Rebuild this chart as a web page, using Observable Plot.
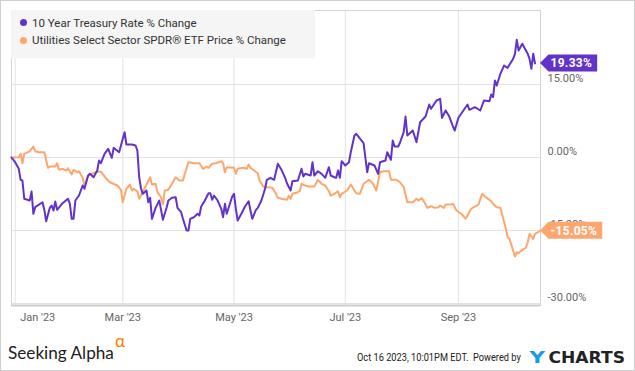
<!DOCTYPE html>
<html><head><meta charset="utf-8">
<script src="https://cdn.jsdelivr.net/npm/d3@7"></script>
<script src="https://cdn.jsdelivr.net/npm/@observablehq/plot@0.6"></script>
<style>
body{margin:0;background:#fff;font-family:Roboto,sans-serif;}
#wrap{position:relative;width:635px;height:371px;overflow:hidden;background:#fff}
#chart{position:absolute;left:0;top:0}
#border{position:absolute;left:0;top:0;width:635px;height:371px;box-sizing:border-box;border:1px solid #cfcfcf;pointer-events:none}
#legend{position:absolute;left:11px;top:10px;width:304px;height:48px;background:#f5f5f5;font-family:Roboto,sans-serif;font-size:11.5px;color:#333}
.li{position:absolute;left:21px;height:16px;line-height:16px;white-space:nowrap}
.dot{position:absolute;left:9px;width:7px;height:7px;border-radius:50%}
#footer{position:absolute;left:0;top:320px}
</style>
</head><body>
<div id="wrap">
  <div id="chart"></div>
  <div id="legend"></div>
  <svg id="footer" width="635" height="51"></svg>
  <div id="border"></div>
</div>
<script>
const seriesNames = ["10 Year Treasury Rate % Change", "Utilities Select Sector SPDR® ETF Price % Change"];
const seriesColors = ["#6233c8", "#fda66e"];

const treasuryDates = ["2022-12-30","2023-01-01","2023-01-03","2023-01-04","2023-01-05","2023-01-06","2023-01-09","2023-01-10","2023-01-11","2023-01-12","2023-01-16","2023-01-17","2023-01-18","2023-01-20","2023-01-21","2023-01-22","2023-01-23","2023-01-24","2023-01-27","2023-01-30","2023-01-31","2023-02-01","2023-02-02","2023-02-03","2023-02-05","2023-02-07","2023-02-08","2023-02-10","2023-02-11","2023-02-13","2023-02-15","2023-02-16","2023-02-17","2023-02-19","2023-02-21","2023-02-23","2023-02-24","2023-02-27","2023-02-28","2023-03-02","2023-03-03","2023-03-06","2023-03-08","2023-03-09","2023-03-10","2023-03-11","2023-03-12","2023-03-14","2023-03-15","2023-03-16","2023-03-17","2023-03-19","2023-03-21","2023-03-22","2023-03-23","2023-03-25","2023-03-26","2023-03-28","2023-03-30","2023-03-31","2023-04-02","2023-04-03","2023-04-05","2023-04-06","2023-04-07","2023-04-09","2023-04-11","2023-04-12","2023-04-13","2023-04-15","2023-04-17","2023-04-18","2023-04-19","2023-04-20","2023-04-22","2023-04-24","2023-04-25","2023-04-26","2023-04-27","2023-04-29","2023-04-30","2023-05-01","2023-05-02","2023-05-03","2023-05-05","2023-05-07","2023-05-09","2023-05-10","2023-05-11","2023-05-13","2023-05-14","2023-05-16","2023-05-18","2023-05-19","2023-05-21","2023-05-23","2023-05-25","2023-05-27","2023-05-29","2023-05-30","2023-06-01","2023-06-02","2023-06-05","2023-06-07","2023-06-08","2023-06-09","2023-06-12","2023-06-13","2023-06-14","2023-06-16","2023-06-18","2023-06-20","2023-06-22","2023-06-23","2023-06-25","2023-06-26","2023-06-27","2023-06-28","2023-06-29","2023-07-01","2023-07-03","2023-07-04","2023-07-06","2023-07-07","2023-07-11","2023-07-13","2023-07-14","2023-07-17","2023-07-19","2023-07-20","2023-07-23","2023-07-24","2023-07-26","2023-07-27","2023-07-28","2023-07-30","2023-07-31","2023-08-02","2023-08-03","2023-08-04","2023-08-07","2023-08-09","2023-08-11","2023-08-14","2023-08-16","2023-08-17","2023-08-20","2023-08-22","2023-08-23","2023-08-25","2023-08-27","2023-08-29","2023-08-30","2023-09-01","2023-09-06","2023-09-07","2023-09-10","2023-09-13","2023-09-15","2023-09-18","2023-09-19","2023-09-20","2023-09-21","2023-09-22","2023-09-24","2023-09-26","2023-09-28","2023-10-01","2023-10-02","2023-10-03","2023-10-04","2023-10-06","2023-10-09","2023-10-10","2023-10-11","2023-10-12","2023-10-13"];
const treasuryValues = [0,-0.97,-2.32,-4.58,-4.73,-8.49,-8.84,-6.99,-11.57,-10.21,-9.19,-10.75,-13.09,-10.34,-9.86,-10.89,-9.04,-10.75,-9.39,-8.49,-9.51,-12.60,-12.60,-8.84,-7.81,-5.75,-6.43,-3.70,-3.35,-4.05,-2.67,-0.62,-1.17,0.76,1.79,-0.06,1.99,1.09,2.47,5.20,2.67,2.67,2.47,1.44,-4.05,-6.37,-7.46,-6.78,-9.19,-8.28,-12.60,-10.34,-8.84,-10.75,-12.80,-10.34,-8.84,-8.28,-8.16,-10.34,-11.24,-12.60,-15.00,-15.00,-12.60,-12.27,-11.57,-11.92,-10.07,-8.84,-7.34,-7.34,-8.69,-7.81,-8.84,-10.54,-12.27,-9.51,-11.57,-9.19,-8.01,-7.46,-10.54,-12.95,-11.57,-10.07,-8.98,-10.89,-12.60,-10.75,-10.34,-8.84,-6.43,-4.58,-4.17,-4.58,-1.29,-2.53,-4.17,-5.28,-6.78,-4.87,-4.73,-2.32,-3.90,-3.35,-3.70,-0.97,-3.70,-2.82,-3.35,-4.17,-1.99,-3.70,-4.05,-4.17,-2.67,-4.17,-0.76,-1.64,-0.97,1.09,4.52,4.87,2.94,-3.02,-1.17,-1.64,-3.35,-0.97,-0.62,1.09,-0.47,3.49,2.26,2.26,3.08,5.20,8.42,4.52,5.55,3.14,7.25,8.42,10.89,10.01,11.71,12.06,8.16,9.66,8.42,6.37,5.55,8.16,10.89,9.80,10.34,9.66,11.71,11.57,12.95,12.39,15.82,14.79,17.20,18.90,18.43,20.28,21.31,24.19,21.99,23.36,21.31,20.28,18.23,21.31,19.33];

const utilityDates = ["2022-12-30","2023-01-03","2023-01-04","2023-01-05","2023-01-06","2023-01-09","2023-01-11","2023-01-12","2023-01-14","2023-01-17","2023-01-19","2023-01-20","2023-01-23","2023-01-24","2023-01-25","2023-01-27","2023-01-29","2023-01-30","2023-02-01","2023-02-02","2023-02-04","2023-02-05","2023-02-07","2023-02-08","2023-02-10","2023-02-11","2023-02-14","2023-02-17","2023-02-20","2023-02-22","2023-02-26","2023-02-28","2023-03-01","2023-03-03","2023-03-05","2023-03-06","2023-03-07","2023-03-09","2023-03-10","2023-03-11","2023-03-14","2023-03-16","2023-03-17","2023-03-19","2023-03-20","2023-03-22","2023-03-23","2023-03-24","2023-03-26","2023-03-28","2023-03-30","2023-04-01","2023-04-03","2023-04-04","2023-04-06","2023-04-09","2023-04-12","2023-04-14","2023-04-16","2023-04-17","2023-04-19","2023-04-21","2023-04-24","2023-04-25","2023-04-26","2023-04-27","2023-05-01","2023-05-02","2023-05-03","2023-05-06","2023-05-08","2023-05-09","2023-05-10","2023-05-12","2023-05-14","2023-05-15","2023-05-17","2023-05-19","2023-05-22","2023-05-24","2023-05-25","2023-05-27","2023-05-30","2023-05-31","2023-06-01","2023-06-02","2023-06-05","2023-06-06","2023-06-07","2023-06-09","2023-06-11","2023-06-14","2023-06-16","2023-06-18","2023-06-20","2023-06-22","2023-06-23","2023-06-25","2023-06-27","2023-06-28","2023-06-29","2023-07-02","2023-07-04","2023-07-06","2023-07-07","2023-07-09","2023-07-11","2023-07-14","2023-07-16","2023-07-18","2023-07-20","2023-07-22","2023-07-25","2023-07-26","2023-07-29","2023-07-31","2023-08-02","2023-08-04","2023-08-07","2023-08-09","2023-08-10","2023-08-12","2023-08-13","2023-08-15","2023-08-17","2023-08-19","2023-08-21","2023-08-22","2023-08-24","2023-08-25","2023-08-28","2023-08-29","2023-08-31","2023-09-03","2023-09-05","2023-09-08","2023-09-10","2023-09-12","2023-09-14","2023-09-16","2023-09-19","2023-09-20","2023-09-22","2023-09-24","2023-09-27","2023-09-28","2023-09-29","2023-10-02","2023-10-03","2023-10-04","2023-10-06","2023-10-08","2023-10-09","2023-10-10","2023-10-12","2023-10-13","2023-10-16"];
const utilityValues = [0,0.06,0.76,-1.17,0.76,1.29,2.26,1.29,1.09,1.09,-2.12,-1.85,-1.85,-1.17,-2.53,-2.32,-2.67,-2.20,-3.49,-2.53,-3.02,-2.82,-4.17,-5.75,-3.70,-3.49,-3.02,-2.88,-4.38,-5.08,-5.75,-6.64,-9.19,-6.43,-5.55,-6.78,-6.43,-6.93,-8.49,-7.81,-5.55,-4.05,-5.55,-5.40,-7.13,-8.16,-9.66,-6.78,-6.64,-5.40,-4.05,-4.73,-4.73,-3.35,-0.97,-1.17,-1.17,-2.32,-1.85,-2.12,-1.29,-1.17,-0.76,-1.17,-3.02,-1.99,-2.12,-3.35,-2.32,-2.12,-2.32,-1.44,-2.12,-2.67,-3.23,-4.73,-5.96,-6.10,-6.23,-7.46,-8.28,-8.49,-8.69,-7.87,-8.49,-7.46,-7.13,-6.93,-5.40,-5.75,-5.96,-5.96,-4.58,-5.40,-5.75,-6.93,-7.81,-7.46,-6.93,-8.16,-7.46,-6.78,-5.55,-6.78,-7.34,-7.46,-5.40,-4.58,-5.28,-6.78,-3.02,-2.82,-2.82,-4.58,-4.58,-5.08,-6.10,-9.19,-9.19,-8.49,-8.84,-8.36,-8.98,-10.34,-10.01,-10.34,-10.21,-9.86,-10.34,-9.66,-9.66,-9.51,-10.89,-11.71,-12.60,-10.54,-10.07,-9.66,-7.46,-8.16,-8.98,-9.51,-10.21,-10.34,-14.65,-16.38,-16.71,-20.34,-19.46,-19.66,-18.97,-18.55,-17.40,-15.68,-16.71,-15.68,-15.05];

const xTickDates = ["2023-01-01","2023-03-01","2023-05-01","2023-07-01","2023-09-01"];
const yTicks = [-30, -15, 0, 15];
const xDomain = ["2022-12-30", "2023-10-16"];
const yDomain = [-30.41, 30.21];

const footerLeft = "Seeking Alpha";
const footerAlpha = "α";
const footerStamp = "Oct 16 2023, 10:01PM EDT.  Powered by";
const footerBrandY = "Y";
const footerBrandRest = "CHARTS";

const treasury = treasuryDates.map((d, i) => ({date: new Date(d), value: treasuryValues[i]}));
const utility = utilityDates.map((d, i) => ({date: new Date(d), value: utilityValues[i]}));
const xTicks = xTickDates.map(d => new Date(d));
const fmtX = d3.utcFormat("%b '%y");

const W = 635, H = 335, mL = 11, mR = 95, mT = 10, mB = 30;

const chart = Plot.plot({
  width: W, height: H,
  marginLeft: mL, marginRight: mR, marginTop: mT, marginBottom: mB,
  style: {fontFamily: "Roboto, sans-serif", fontSize: "11px", color: "#666", background: "transparent"},
  x: {type: "utc", domain: xDomain.map(d => new Date(d)), label: null},
  y: {domain: yDomain, label: null},
  marks: [
    Plot.gridX(xTicks, {stroke: "#e2e2e2", strokeOpacity: 1}),
    Plot.gridY(yTicks, {stroke: "#e2e2e2", strokeOpacity: 1}),
    Plot.frame({stroke: "#d4d4d4"}),
    Plot.ruleY([yDomain[0]], {stroke: "#cccccc", strokeWidth: 2}),
    Plot.line(utility, {x: "date", y: "value", stroke: seriesColors[1], strokeWidth: 2}),
    Plot.line(treasury, {x: "date", y: "value", stroke: seriesColors[0], strokeWidth: 2}),
    Plot.axisX(xTicks.slice(1), {tickSize: 0, tickPadding: 8, tickFormat: fmtX, fill: "#666", label: null}),
    Plot.axisX(xTicks.slice(0, 1), {tickSize: 0, tickPadding: 8, tickFormat: fmtX, textAnchor: "start", dx: 5, fill: "#666", label: null}),
    Plot.axisY(yTicks, {anchor: "right", tickSize: 0, tickPadding: 7, tickFormat: d => d.toFixed(2) + "%", dy: -6, textAnchor: "start", fill: "#666", label: null})
  ]
});
document.getElementById("chart").appendChild(chart);

// end-of-series value badges, placed through the plot's y scale
const ys = chart.scale("y");
const svg = d3.select(chart);
const lastPoints = [
  {v: treasuryValues[treasuryValues.length - 1], c: seriesColors[0]},
  {v: utilityValues[utilityValues.length - 1], c: seriesColors[1]}
];
lastPoints.forEach(p => {
  const y = ys.apply(p.v);
  const x0 = W - mR;
  const g = svg.append("g").attr("text-anchor", "start");
  const path = g.append("path").attr("fill", p.c);
  const t = g.append("text")
    .attr("x", x0 + 10.5).attr("y", y).attr("dy", "0.36em")
    .attr("text-anchor", "start")
    .attr("fill", "#fff").attr("font-weight", "bold").attr("font-size", 12)
    .attr("font-family", "Roboto, sans-serif").attr("letter-spacing", 0.3)
    .text(p.v.toFixed(2) + "%");
  const tw = t.node().getComputedTextLength();
  const h = 8.5, a = 8.5;
  const xr = x0 + 10.5 + tw + 5;
  path.attr("d", `M${x0},${y}L${x0 + a},${y - h}L${xr},${y - h}L${xr},${y + h}L${x0 + a},${y + h}Z`);
});

// legend
const legend = d3.select("#legend");
seriesNames.forEach((name, i) => {
  const cy = 12.7 + i * 17.3;
  legend.append("div").attr("class", "dot").style("top", (cy - 3.5) + "px").style("background", seriesColors[i]);
  legend.append("div").attr("class", "li").style("top", (cy - 8) + "px").text(name);
});

// footer (svg top at 320); texts fitted horizontally with a scale transform
const foot = d3.select("#footer");
function fitText(str, x, y, width, attrs) {
  const t = foot.append("text").attr("x", 0).attr("y", 0).text(str);
  Object.entries(attrs).forEach(([k, v]) => t.attr(k, v));
  const w = t.node().getComputedTextLength();
  t.attr("transform", `translate(${x},${y}) scale(${width / w},1)`);
  return t;
}
fitText(footerLeft, 8, 38.5, 106, {"font-family": "Lato, sans-serif", "font-size": 18, fill: "#222"});
foot.append("text").attr("x", 115).attr("y", 27).attr("font-family", "Lato, sans-serif").attr("font-size", 17)
  .attr("fill", "#ff7a00").text(footerAlpha);
fitText(footerStamp, 357, 40.5, 164, {"font-family": "Roboto, sans-serif", "font-size": 11.5, fill: "#222", "xml:space": "preserve", style: "white-space:pre"});
fitText(footerBrandY, 529.5, 43.3, 15.5, {"font-family": "'DejaVu Sans', sans-serif", "font-weight": "bold", "font-size": 16.5, fill: "#1b9be6"});
fitText(footerBrandRest, 548.5, 43.3, 76.5, {"font-family": "'DejaVu Sans', sans-serif", "font-weight": "bold", "font-size": 16.5, fill: "#222"});
</script>
</body></html>
